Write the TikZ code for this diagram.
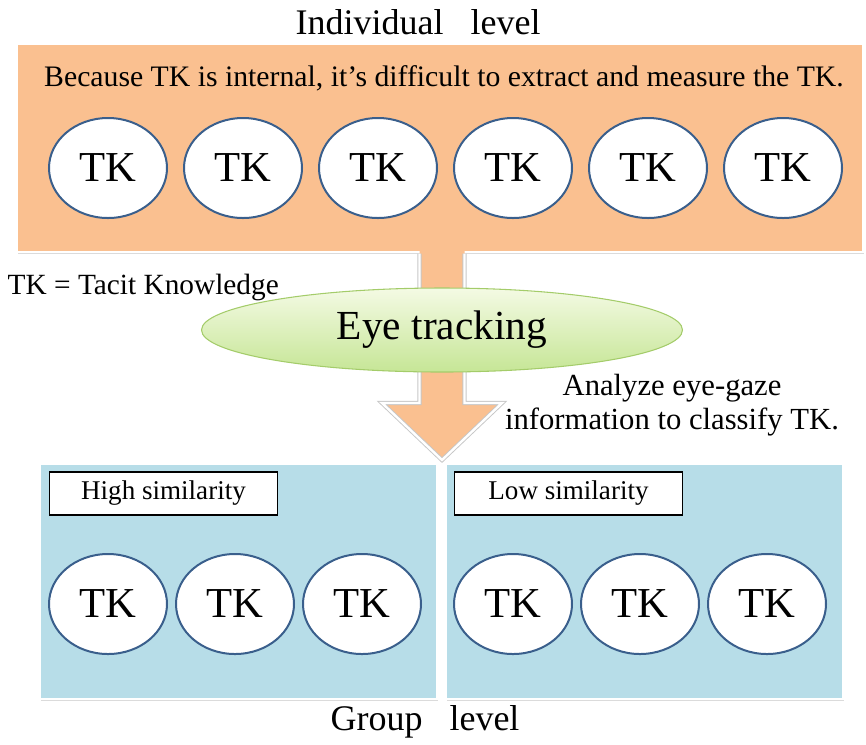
\documentclass[tikz,border=0pt]{standalone}
\usepackage{fontspec}
\setmainfont{Liberation Serif}
\usetikzlibrary{positioning, shapes.geometric, shadows}

\definecolor{boxorange}{HTML}{FAC090}
\definecolor{boxblue}{HTML}{B7DDE8}
\definecolor{tkline}{HTML}{3A5F8C}
\definecolor{eyetop}{HTML}{F4FAE4}
\definecolor{eyebottom}{HTML}{C6E696}
\definecolor{eyeline}{HTML}{A4CC6A}

\begin{document}
\begin{tikzpicture}[
	x=0.75pt,
	y=-0.75pt,
	panel/.style={rectangle, draw=white, line width=1.5pt, inner sep=0pt,
		drop shadow={shadow xshift=1pt, shadow yshift=-1.8pt, fill=black!28}},
	tk/.style={ellipse, draw=tkline, line width=1.5pt, fill=white, inner sep=0pt,
		minimum width=118*0.75pt, minimum height=100*0.75pt, font=\fontsize{32}{32}\selectfont},
	tag/.style={rectangle, draw=black, line width=0.9pt, fill=white, inner sep=0pt,
		minimum width=228*0.75pt, minimum height=43*0.75pt, font=\fontsize{20.3}{20.3}\selectfont},
	level/.style={font=\fontsize{27}{27}\selectfont},
	note/.style={font=\fontsize{22}{26}\selectfont}
]

\useasboundingbox (0,0) rectangle (866,744);

\def\shaft{22.5}
\def\head{60}
\def\midx{442}

\node[panel, fill=boxorange, minimum width=846*0.75pt, minimum height=208*0.75pt] (indiv) at (440,148) {};
\node[panel, fill=boxblue, minimum width=397*0.75pt, minimum height=235*0.75pt] (high) at (238.5,581.5) {};
\node[panel, fill=boxblue, minimum width=397*0.75pt, minimum height=235*0.75pt] (low) at (644.5,581.5) {};

\coordinate (tip) at (\midx,460);
\fill[boxorange] (\midx-\shaft,240) -- (\midx-\shaft,403) -- (\midx-\head,403) -- (tip)
	-- (\midx+\head,403) -- (\midx+\shaft,403) -- (\midx+\shaft,240) -- cycle;
\draw[black!22, line width=3.2pt] (\midx-\shaft,253.5) -- (\midx-\shaft,403) -- (\midx-\head,403) -- (tip)
	-- (\midx+\head,403) -- (\midx+\shaft,403) -- (\midx+\shaft,253.5);
\draw[white, line width=1.8pt] (\midx-\shaft,253.5) -- (\midx-\shaft,403) -- (\midx-\head,403) -- (tip)
	-- (\midx+\head,403) -- (\midx+\shaft,403) -- (\midx+\shaft,253.5);

\node[level] (indivlabel) at (418,22) {Individual\ \ \ level};
\node[level] (grouplabel) at (425,722) {Group\ \ \ level};

\node[font=\fontsize{22.3}{22.3}\selectfont] (reason) at (444,78)
	{Because TK is internal, it’s difficult to extract and measure the TK.};

\foreach \i/\x in {1/108, 2/243, 3/378, 4/513, 5/648, 6/783} {
	\node[tk] (top\i) at (\x,168) {TK};
}

\node[tag] (hightag) at (163.5,493.5) {High similarity};
\node[tag] (lowtag) at (568.5,493.5) {Low similarity};

\foreach \i/\x in {1/108, 2/235, 3/362} {
	\node[tk] (high\i) at (\x,604) {TK};
}
\foreach \i/\x in {1/513, 2/640, 3/767} {
	\node[tk] (low\i) at (\x,604) {TK};
}

\node[note, anchor=west] (legend) at (3,287) {TK = Tacit Knowledge};

\node[ellipse, draw=eyeline, line width=0.8pt, top color=eyetop, bottom color=eyebottom,
	minimum width=481*0.75pt, minimum height=84*0.75pt, inner sep=0pt,
	font=\fontsize{31}{31}\selectfont] (eye) at (\midx,330) {Eye tracking};

\node[note, align=center, font=\fontsize{23}{26}\selectfont] (analyze) at (672,405)
	{Analyze eye-gaze\\information to classify TK.};

\end{tikzpicture}
\end{document}
